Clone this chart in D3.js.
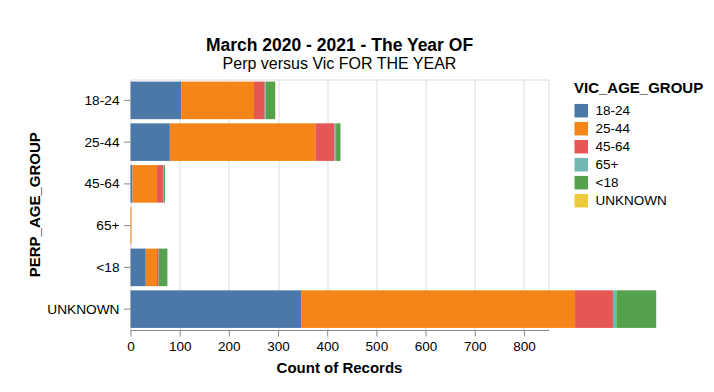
<!DOCTYPE html>
<html>
<head>
<meta charset="utf-8">
<script src="https://cdn.jsdelivr.net/npm/d3@7"></script>
<style>
  body { margin: 0; background: #fff; }
  svg text { font-family: "Liberation Sans", Arial, Helvetica, sans-serif; fill: #000; }
</style>
</head>
<body>
<svg id="chart" width="714" height="392"></svg>
<script>
const perpGroups = ["18-24", "25-44", "45-64", "65+", "<18", "UNKNOWN"];
const vicGroups = ["18-24", "25-44", "45-64", "65+", "<18", "UNKNOWN"];
// one array per perp group, values in vic group order
const vic1824 = [103, 148, 22, 2, 19, 1];
const vic2544 = [80, 296, 39, 3, 9, 0];
const vic4564 = [4, 50, 12, 1, 3, 0];
const vic65 = [0, 2, 0, 0, 0, 0];
const vicU18 = [31, 23, 3, 0, 18, 0];
const vicUnknown = [347, 557, 77, 7, 81, 0];
const xTicks = [0, 100, 200, 300, 400, 500, 600, 700, 800];
const colors = ["#4c78a8", "#f58518", "#e45756", "#72b7b2", "#54a24b", "#eeca3b"];

const counts = [vic1824, vic2544, vic4564, vic65, vicU18, vicUnknown];

const margin = {left: 130.5, top: 79.5};
const width = 418, height = 250.5;

const svg = d3.select('#chart');
const g = svg.append('g').attr('transform', `translate(${margin.left},${margin.top})`);

const x = d3.scaleLinear().domain([0, 850]).range([0, width]);
const y = d3.scaleBand().domain(perpGroups).range([0, height]).paddingInner(0.1).paddingOuter(0.05);
const color = d3.scaleOrdinal().domain(vicGroups).range(colors);

// table for the stack
const table = perpGroups.map((p, i) => {
  const row = {perp: p};
  vicGroups.forEach((v, j) => { row[v] = counts[i][j]; });
  return row;
});
const series = d3.stack().keys(vicGroups)(table);

// view frame
g.append('rect')
  .attr('x', 0.5).attr('y', 0.5)
  .attr('width', width).attr('height', height)
  .attr('fill', 'none').attr('stroke', '#ddd');

// grid
g.append('g')
  .selectAll('line')
  .data(xTicks.filter(d => d > 0))
  .join('line')
    .attr('x1', d => Math.round(x(d)) + 0.5)
    .attr('x2', d => Math.round(x(d)) + 0.5)
    .attr('y1', 0).attr('y2', height)
    .attr('stroke', '#ddd');

// bars
g.append('g')
  .selectAll('g')
  .data(series)
  .join('g')
    .attr('fill', d => color(d.key))
  .selectAll('rect')
  .data(d => d.filter(s => s[1] > s[0]))
  .join('rect')
    .attr('x', d => x(d[0]))
    .attr('width', d => x(d[1]) - x(d[0]))
    .attr('y', d => y(d.data.perp))
    .attr('height', y.bandwidth());

// x axis
const xAxis = g.append('g')
  .attr('transform', `translate(0,${height})`)
  .call(d3.axisBottom(x).tickValues(xTicks).tickSize(6.5).tickPadding(5));
xAxis.select('.domain').attr('stroke', '#888').attr('d', `M0.5,0.5H${width + 0.5}`);
xAxis.selectAll('.tick line').attr('stroke', '#888');
xAxis.selectAll('.tick text')
  .attr('font-size', '13.5px').attr('font-family', null).style('fill', '#000');

// y axis
const yAxis = g.append('g')
  .call(d3.axisLeft(y).tickSize(6.5).tickPadding(4.5));
yAxis.select('.domain').remove();
yAxis.selectAll('.tick line').attr('stroke', '#888');
yAxis.selectAll('.tick text')
  .attr('font-size', '13.7px').attr('font-family', null).style('fill', '#000');

// axis titles
svg.append('text')
  .attr('x', margin.left + width / 2).attr('y', 373)
  .attr('text-anchor', 'middle')
  .attr('font-size', '15px').attr('font-weight', 'bold')
  .text('Count of Records');

svg.append('text')
  .attr('transform', `translate(39.5,${margin.top + height / 2}) rotate(-90)`)
  .attr('text-anchor', 'middle')
  .attr('font-size', '15px').attr('font-weight', 'bold')
  .text('PERP_AGE_GROUP');

// titles
svg.append('text')
  .attr('x', margin.left + width / 2).attr('y', 50.5)
  .attr('text-anchor', 'middle')
  .attr('font-size', '17.5px').attr('font-weight', 'bold')
  .text('March 2020 - 2021 - The Year OF');

svg.append('text')
  .attr('x', margin.left + width / 2).attr('y', 68.5)
  .attr('text-anchor', 'middle')
  .attr('font-size', '16px')
  .text('Perp versus Vic FOR THE YEAR');

// legend
const legend = svg.append('g').attr('transform', 'translate(574,0)');
legend.append('text')
  .attr('x', 0).attr('y', 92.7)
  .attr('font-size', '15px').attr('font-weight', 'bold')
  .text('VIC_AGE_GROUP');

const items = legend.selectAll('.item')
  .data(vicGroups)
  .join('g')
    .attr('class', 'item')
    .attr('transform', (d, i) => `translate(0,${110.7 + i * 18})`);
items.append('rect')
  .attr('x', 0.5).attr('y', -6.75)
  .attr('width', 13.5).attr('height', 13.5)
  .attr('fill', d => color(d));
items.append('text')
  .attr('x', 21.5).attr('dy', '0.35em')
  .attr('font-size', '13.5px')
  .text(d => d);
</script>
</body>
</html>
